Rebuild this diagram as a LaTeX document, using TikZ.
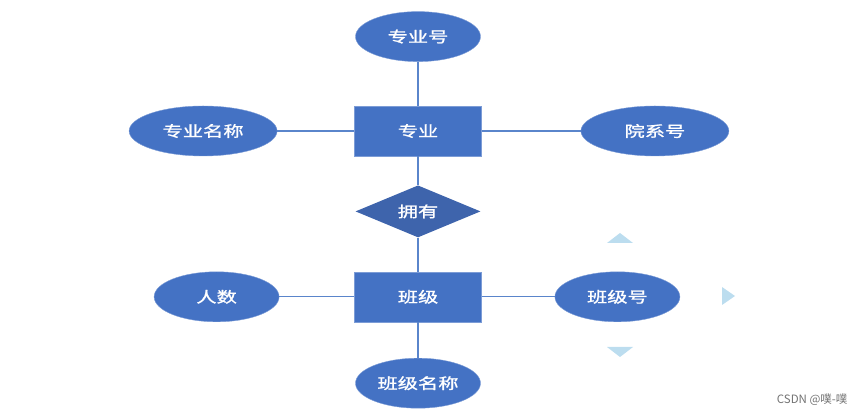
\documentclass[tikz,border=0pt]{standalone}
\usepackage{fontspec}
\newfontfamily\cjk[FakeStretch=1.35,FakeBold=1.2]{Noto Sans CJK SC}
\usetikzlibrary{shapes.geometric, positioning}
\definecolor{erblue}{HTML}{4472C4}
\definecolor{erdark}{HTML}{3E64AC}
\definecolor{lineblue}{HTML}{5A85CB}
\definecolor{handleblue}{HTML}{BCDDEF}

\begin{document}
\begin{tikzpicture}[x=1pt, y=1pt, node distance=40pt,
    font=\cjk\fontsize{15}{15}\selectfont,
    entity/.style={draw=erblue!70!white, fill=erblue, rectangle, minimum width=127pt, minimum height=50pt, text=white, inner sep=0pt},
    attr/.style={draw=erblue!70!white, fill=erblue, ellipse, minimum width=125pt, minimum height=50pt, text=white, inner sep=0pt},
    rel/.style={fill=erdark, diamond, aspect=2.4, minimum width=125pt, minimum height=52pt, text=white, inner sep=0pt},
    link/.style={draw=lineblue, line width=1.1pt}]
        \useasboundingbox (0,0) rectangle (865,417);

        \node [entity] (major) at (418,286) {专业};
        \node [attr, above=44pt of major] (majorno) {专业号};
        \node [attr, left=77pt of major, minimum width=148pt] (majorname) {专业名称};
        \node [attr, right=99pt of major, minimum width=148pt] (deptno) {院系号};

        \node [rel, below=29pt of major] (own) {拥有};

        \node [entity, below=34pt of own] (class) {班级};
        \node [attr, left=75pt of class] (count) {人数};
        \node [attr, right=73pt of class] (classno) {班级号};
        \node [attr, below=36pt of class] (classname) {班级名称};

        \draw [link] (majorno) -- (major);
        \draw [link] (majorname) -- (major);
        \draw [link] (major) -- (deptno);
        \draw [link] (major) -- (own);
        \draw [link] (own) -- (class);
        \draw [link] (count) -- (class);
        \draw [link] (class) -- (classno);
        \draw [link] (class) -- (classname);

        % handles round the selected shape
        \fill [handleblue] (607,174) -- (633,174) -- (620,184) -- cycle;
        \fill [handleblue] (607,70) -- (633,70) -- (620,60) -- cycle;
        \fill [handleblue] (722,130) -- (722,112) -- (735,121) -- cycle;

        \node [anchor=east, text=black!55, font=\fontspec{Noto Sans CJK SC}\fontsize{11.5}{11.5}\selectfont] (mark) at (851,17) {CSDN @噗-噗};
    \end{tikzpicture}
\end{document}
